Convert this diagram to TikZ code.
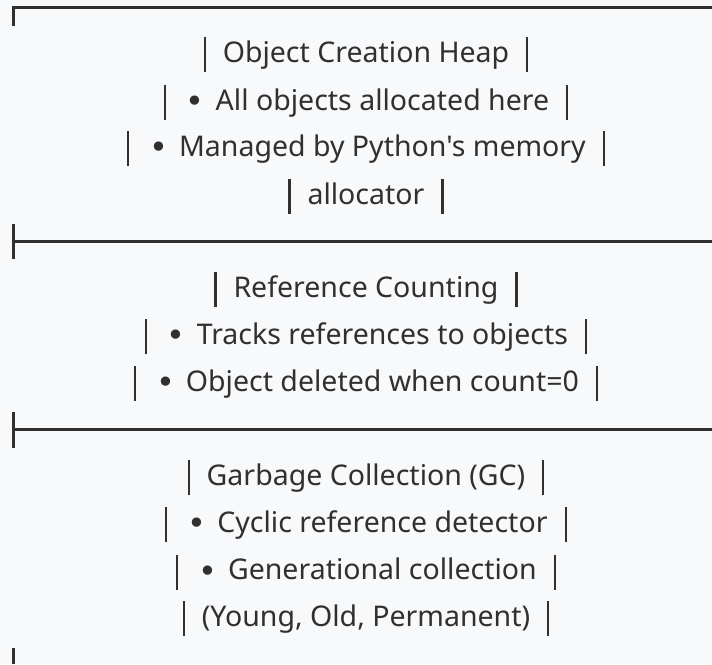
\documentclass[tikz,border=0pt]{standalone}
\usepackage{fontspec}
\newfontfamily\nf{Noto Sans}
\newfontfamily\dvfont{DejaVu Sans}
\definecolor{bgc}{HTML}{F8F9FB}
\definecolor{inkc}{HTML}{303030}
\newcommand{\vb}{\rule[-9.5pt]{2.2pt}{35pt}}
\newcommand{\lb}{\vb\hspace{17pt}}
\newcommand{\rb}{\hspace{17pt}\vb}
\newcommand{\bul}{\vb\hspace{20pt}\raisebox{-2pt}{\dvfont\fontsize{32}{32}\selectfont •}\hspace{11pt}}
\begin{document}
\begin{tikzpicture}[x=1pt,y=1pt,
  txt/.style={anchor=base,inner sep=0pt,text=inkc,font=\nf\fontsize{28.5}{32}\selectfont},
  rule/.style={draw=inkc,line width=3pt}]
\fill[bgc] (0,0) rectangle (712,664);
\useasboundingbox (0,0) rectangle (712,664);
% rules
\coordinate (t0) at (13.7,656.5);
\coordinate (t1) at (712,656.5);
\coordinate (t2) at (13.7,638.3);
\draw[rule] (t2) -- (t0) -- (t1);
\coordinate (m1l) at (13.7,422);
\coordinate (m1r) at (712,422);
\coordinate (m1a) at (13.7,440);
\coordinate (m1b) at (13.7,404.7);
\draw[rule] (m1l) -- (m1r);
\draw[rule] (m1a) -- (m1b);
\coordinate (m2l) at (13.7,234);
\coordinate (m2r) at (712,234);
\coordinate (m2a) at (13.7,251.7);
\coordinate (m2b) at (13.7,216.3);
\draw[rule] (m2l) -- (m2r);
\draw[rule] (m2a) -- (m2b);
\coordinate (bt) at (13.7,16);
\coordinate (bb) at (13.7,0);
\draw[rule] (bt) -- (bb);
% texts
\node[txt] (a1) at (366,601.5) {\lb Object Creation Heap\rb};
\node[txt] (a2) at (366,553.5) {\bul All objects allocated here\rb};
\node[txt] (a3) at (366,507.3) {\bul Managed by Python's memory\rb};
\node[txt] (a4) at (366,459.8) {\lb allocator\rb};
\node[txt] (b1) at (366,366) {\lb Reference Counting\rb};
\node[txt] (b2) at (366,319) {\bul Tracks references to objects\rb};
\node[txt] (b3) at (366,272) {\bul Object deleted when count=0\rb};
\node[txt] (c1) at (366,178) {\lb Garbage Collection (GC)\rb};
\node[txt] (c2) at (366,131.5) {\bul Cyclic reference detector\rb};
\node[txt] (c3) at (366,84) {\bul Generational collection\rb};
\node[txt] (c4) at (366,37.5) {\lb (Young, Old, Permanent)\rb};
\end{tikzpicture}
\end{document}
